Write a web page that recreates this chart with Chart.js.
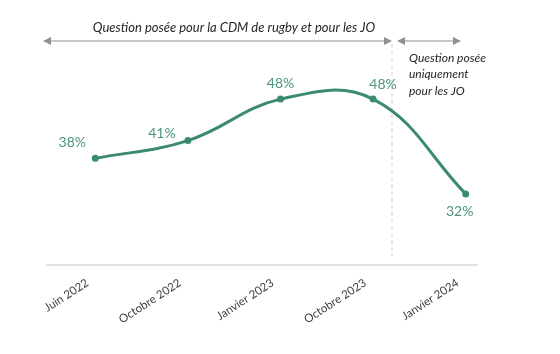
<!DOCTYPE html>
<html>
<head>
<meta charset="utf-8">
<script src="https://cdn.jsdelivr.net/npm/chart.js@4"></script>
<style>
  html, body { margin: 0; padding: 0; background: #fff; }
  #wrap { width: 560px; height: 354px; position: relative; }
</style>
</head>
<body>
<div id="wrap"><canvas id="chart_canvas"></canvas></div>
<script>
// data
const categories = ["Juin 2022", "Octobre 2022", "Janvier 2023", "Octobre 2023", "Janvier 2024"]
const values = [38, 41, 48, 48, 32]
const value_labels = ["38%", "41%", "48%", "48%", "32%"]

const title_left = "Question posée pour la CDM de rugby et pour les JO"
const title_right = ["Question posée", "uniquement", "pour les JO"]

const green = "#3d8b6f"
const label_green = "#4b957a"
const gray_arrow = "#8f8f8f"

// where each % label sits relative to its point
const label_offsets = [[-23, -16], [-26, -7], [0, -16], [10, -15], [-6, 18]]

function arrow_head(ctx, x, y, dir) {
  ctx.beginPath()
  ctx.moveTo(x, y)
  ctx.lineTo(x - dir * 8, y - 4)
  ctx.lineTo(x - dir * 8, y + 4)
  ctx.closePath()
  ctx.fill()
}

const deco_plugin = {
  id: "deco",
  beforeDatasetsDraw(chart) {
    const ctx = chart.ctx
    const area = chart.chartArea
    ctx.save()
    // baseline
    ctx.strokeStyle = "#d9d9d9"
    ctx.lineWidth = 1.5
    ctx.beginPath()
    ctx.moveTo(46, area.bottom)
    ctx.lineTo(478, area.bottom)
    ctx.stroke()

    // separator between the two periods
    const sep_x = 392
    ctx.strokeStyle = "#cfcfcf"
    ctx.lineWidth = 1
    ctx.setLineDash([4, 3])
    ctx.beginPath()
    ctx.moveTo(sep_x, 44)
    ctx.lineTo(sep_x, 256)
    ctx.stroke()
    ctx.setLineDash([])

    // arrows
    ctx.strokeStyle = gray_arrow
    ctx.fillStyle = gray_arrow
    ctx.lineWidth = 1.2
    ctx.beginPath()
    ctx.moveTo(46, 41)
    ctx.lineTo(389, 41)
    ctx.stroke()
    arrow_head(ctx, 43, 41, -1)
    arrow_head(ctx, 392, 41, 1)

    ctx.beginPath()
    ctx.moveTo(400, 41)
    ctx.lineTo(457, 41)
    ctx.stroke()
    arrow_head(ctx, 397, 41, -1)
    arrow_head(ctx, 461, 41, 1)

    // texts
    ctx.fillStyle = "#262626"
    ctx.font = "italic 13px Lato"
    ctx.textAlign = "center"
    ctx.textBaseline = "middle"
    ctx.fillText(title_left, 234, 28)

    ctx.font = "italic 12px Lato"
    ctx.textAlign = "left"
    title_right.forEach((line, i) => {
      ctx.fillText(line, 409, 58 + i * 16.5)
    })
    ctx.restore()
  },
  afterDatasetsDraw(chart) {
    const ctx = chart.ctx
    const meta = chart.getDatasetMeta(0)
    ctx.save()
    ctx.fillStyle = label_green
    ctx.font = "14px Lato"
    ctx.textAlign = "center"
    ctx.textBaseline = "middle"
    meta.data.forEach((pt, i) => {
      const off = label_offsets[i]
      ctx.fillText(value_labels[i], pt.x + off[0], pt.y + off[1])
    })
    ctx.restore()
  }
}

var config = {
  type: "line",
  data: {
    labels: categories,
    datasets: [
      {
        data: values,
        borderColor: green,
        backgroundColor: green,
        borderWidth: 3,
        pointRadius: 3.5,
        pointBackgroundColor: green,
        pointBorderWidth: 0,
        tension: 0.4,
        fill: false,
      },
    ],
  },
  options: {
    responsive: false,
    animation: false,
    devicePixelRatio: 1,
    layout: { padding: { left: 49, right: 48, top: 28, bottom: 0 } },
    plugins: {
      legend: { display: false },
      tooltip: { enabled: false },
    },
    scales: {
      x: {
        offset: true,
        grid: { display: false },
        border: { display: false },
        afterFit(scale) { scale.height = 89 },
        ticks: {
          minRotation: 33,
          maxRotation: 33,
          padding: 3,
          labelOffset: -8,
          color: "#404040",
          font: { family: "Lato", size: 11.5 },
        },
      },
      y: {
        display: false,
        min: 20,
        max: 60,
      },
    },
  },
  plugins: [deco_plugin],
}

const canvas = document.getElementById("chart_canvas")
canvas.width = 560
canvas.height = 354
new Chart(canvas.getContext("2d"), config)
</script>
</body>
</html>
